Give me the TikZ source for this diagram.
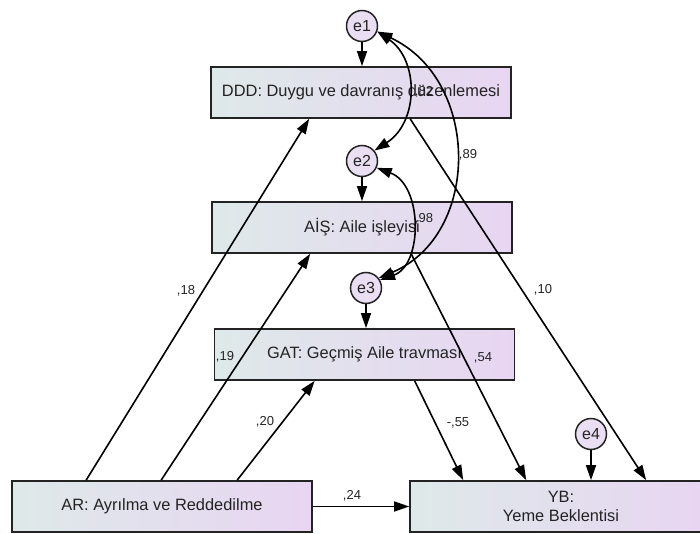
\documentclass[tikz,border=0pt]{standalone}
\usepackage{fontspec}
\setmainfont{Liberation Sans}
\usetikzlibrary{arrows.meta}
\definecolor{boxL}{RGB}{222,233,233}
\definecolor{boxR}{RGB}{232,213,242}
\definecolor{errfill}{RGB}{234,222,242}
\definecolor{edge}{RGB}{35,35,35}
\definecolor{ink}{RGB}{35,35,35}

\begin{document}
\begin{tikzpicture}[x=1pt,y=-1pt,
  vbox/.style={draw=edge,line width=1.7pt,left color=boxL,right color=boxR,
    minimum width=300pt,minimum height=51pt,inner sep=0pt,align=center,
    text=ink,font=\fontsize{16.4}{19}\selectfont},
  errc/.style={circle,draw=edge,line width=1.5pt,fill=errfill,minimum size=31pt,
    inner sep=0pt,text=ink,font=\fontsize{16}{19}\selectfont},
  reg/.style={line width=1.6pt,draw=black,-{Triangle[length=15pt,width=10pt]}},
  corr/.style={line width=1.6pt,draw=black,
    {Triangle[length=15pt,width=10pt]}-{Triangle[length=15pt,width=10pt]}},
  coef/.style={font=\fontsize{13}{15}\selectfont,inner sep=0pt,text=ink}
]
\useasboundingbox (0,0) rectangle (700,534);

% observed variables
\node[vbox] (DDD) at (361,92.5) {DDD: Duygu ve davranış düzenlemesi};
\node[vbox] (AIS) at (362,227.5) {AİŞ: Aile işleyisi};
\node[vbox] (GAT) at (364.5,354.5) {GAT: Geçmiş Aile travması};
\node[vbox] (AR) at (162,506.5) {AR: Ayrılma ve Reddedilme};
\node[vbox,minimum width=302pt] (YB) at (561,506.5) {YB:\\Yeme Beklentisi};

% error terms
\node[errc] (e1) at (362,26) {e1};
\node[errc] (e2) at (362,161) {e2};
\node[errc] (e3) at (366,288) {e3};
\node[errc] (e4) at (591,434) {e4};

% errors to their variables
\draw[reg] (e1) -- (e1 |- DDD.north);
\draw[reg] (e2) -- (e2 |- AIS.north);
\draw[reg] (e3) -- (e3 |- GAT.north);
\draw[reg] (e4) -- (e4 |- YB.north);

% regression paths
\draw[reg] ([xshift=75pt]AR.north west) -- ([xshift=99pt]DDD.south west);
\draw[reg] ([xshift=150pt]AR.north west) -- ([xshift=99pt]AIS.south west);
\draw[reg] ([xshift=226pt]AR.north west) -- ([xshift=101pt]GAT.south west);
\draw[reg] (AR.east) -- (AR.east -| YB.west);
\draw[reg] ([xshift=201pt]GAT.south west) -- ([xshift=54pt]YB.north west);
\draw[reg] ([xshift=200pt]AIS.south west) -- ([xshift=117pt]YB.north west);
\draw[reg] ([xshift=200pt]DDD.south west) -- ([xshift=237pt]YB.north west);

% error covariances
\draw[corr] (e1.-20) .. controls (419,60) and (419,122) .. (e2.40);
\draw[corr] (e1.-20) .. controls (481,80) and (481,235) .. (e3.38);
\draw[corr] (e2.-25) .. controls (423,185) and (423,265) .. (e3.30);

% coefficients
\node[coef] at (186,291) {,18};
\node[coef] at (225,357) {,19};
\node[coef] at (265,422) {,20};
\node[coef] at (352,496) {,24};
\node[coef] at (458,423) {-,55};
\node[coef] at (483,358) {,54};
\node[coef] at (543,290) {,10};
\node[coef] at (468,155) {,89};
\node[coef] at (424,92) {,82};
\node[coef] at (424,219) {,98};
\end{tikzpicture}
\end{document}
